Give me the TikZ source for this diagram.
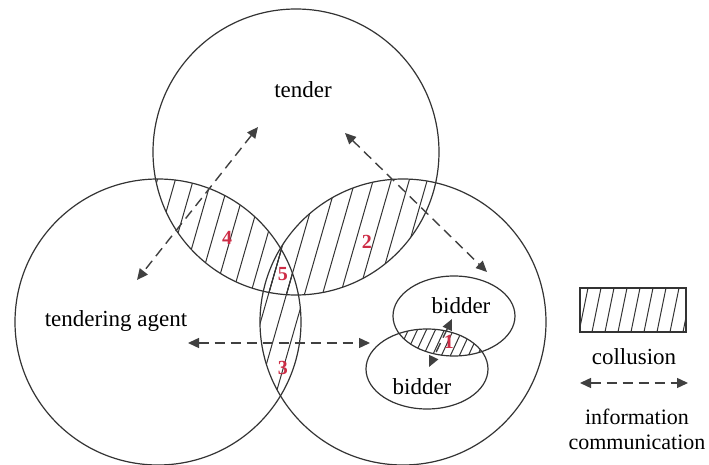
\documentclass[tikz,border=0pt]{standalone}
\usepackage{fontspec}
\setmainfont{Liberation Serif}
\usetikzlibrary{arrows.meta}
\definecolor{numred}{RGB}{205,45,70}
\tikzset{
  party/.style={
    draw=black!80,
    line width=0.6pt
  },
  hatch/.style={
    black!80,
    line width=0.5pt
  },
  info/.style={
    dash pattern=on 5pt off 3pt,
    line width=0.7pt,
    draw=black!75,
    {Triangle[length=5.5pt,width=5pt]}-{Triangle[length=5.5pt,width=5pt]}
  },
  lbl/.style={
    font=\fontsize{11.5}{13}\selectfont,
    inner sep=1pt
  },
  num/.style={
    font=\fontsize{10}{11}\selectfont\bfseries,
    text=numred,
    inner sep=0pt
  }
}
\def\rad{143}

\begin{document}
\begin{tikzpicture}[x=0.5pt,y=-0.5pt]
  % same size as the 709x465 reference
  \useasboundingbox (0,0) rectangle (709,465);

  % centres of the three parties and the two bidders
  \coordinate (T) at (296,152);
  \coordinate (L) at (158,322);
  \coordinate (R) at (403,322);
  \coordinate (B1) at (454,316);
  \coordinate (B2) at (427,369);

  % collusion: every pairwise overlap is hatched
  \foreach \a/\b in {T/L, T/R, L/R} {
    \begin{scope}
      \clip (\a) circle (\rad);
      \clip (\b) circle (\rad);
      \foreach \x in {-160,-142,...,560}
        \draw[hatch] (\x,470) -- ++(135,-470);
    \end{scope}
  }
  \begin{scope}
    \clip (B1) ellipse [x radius=61, y radius=40];
    \clip (B2) ellipse [x radius=61, y radius=40];
    \foreach \x in {340,349,...,520}
      \draw[hatch] (\x,380) -- ++(28,-60);
  \end{scope}

  % the circles and the bidder ellipses
  \draw[party] (T) circle (\rad);
  \draw[party] (L) circle (\rad);
  \draw[party] (R) circle (\rad);
  \draw[party] (B1) ellipse [x radius=61, y radius=40];
  \draw[party] (B2) ellipse [x radius=61, y radius=40];

  % texts
  \node[lbl] (tender) at (303,90) {tender};
  \node[lbl] (agent) at (116,321) {tendering agent};
  \node[lbl] (bidA) at (461,306) {bidder};
  \node[lbl] (bidB) at (422,387) {bidder};

  \node[num] (n1) at (449,342) {1};
  \node[num] (n2) at (367,242) {2};
  \node[num] (n3) at (283,368) {3};
  \node[num] (n4) at (227,238) {4};
  \node[num] (n5) at (283,274) {5};

  % ends of the information arrows
  \coordinate (tA) at (258,127);
  \coordinate (aT) at (137,280);
  \coordinate (tB) at (345,133);
  \coordinate (bT) at (487,272);
  \coordinate (aB) at (188,343);
  \coordinate (bA) at (370,343);
  \coordinate (b1) at (452,319);
  \coordinate (b2) at (429,367);

  \draw[info] (tA) -- (aT);
  \draw[info] (tB) -- (bT);
  \draw[info] (aB) -- (bA);
  \draw[info] (b1) -- (b2);

  % legend
  \begin{scope}
    \clip (580,288) rectangle (686,332);
    \foreach \x in {566,579,...,700}
      \draw[hatch] (\x,332) -- ++(9,-44);
  \end{scope}
  \draw[party] (580,288) rectangle (686,332);
  \node[lbl] (coll) at (634,357) {collusion};
  \coordinate (kL) at (580,383);
  \coordinate (kR) at (688,383);
  \draw[info] (kL) -- (kR);
  \node[lbl, font=\fontsize{11}{12.5}\selectfont, align=center] (comm) at (637,429) {information\\communication};
\end{tikzpicture}
\end{document}
